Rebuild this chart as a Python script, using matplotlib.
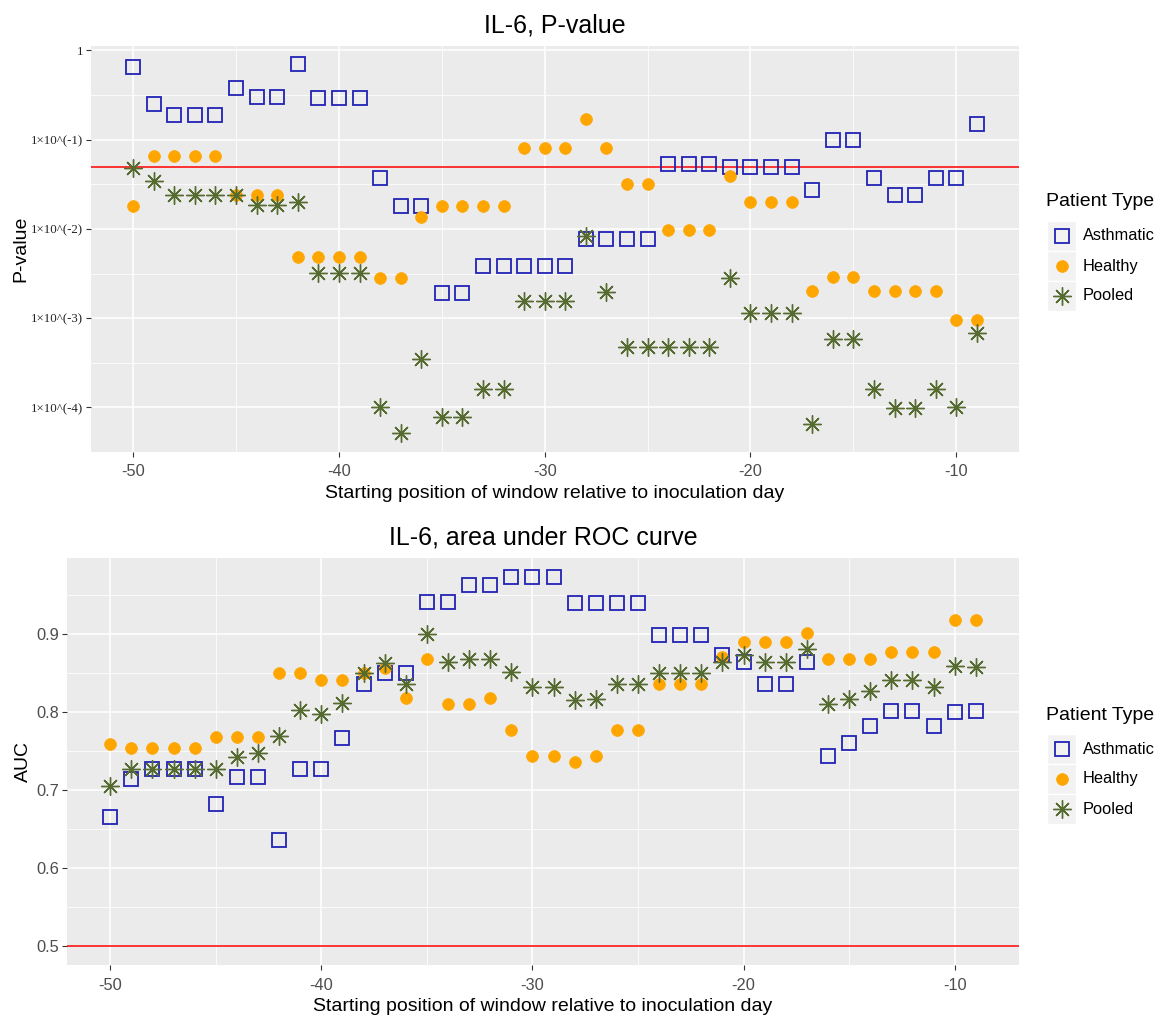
import matplotlib
matplotlib.use('Agg')
import matplotlib.pyplot as plt
from matplotlib.lines import Line2D
from matplotlib.patches import Rectangle
import numpy as np

plt.rcParams['font.family'] = ['Liberation Sans', 'DejaVu Sans']
plt.rcParams['axes.unicode_minus'] = False

days = list(range(-50, -8))

p_asthmatic = [0.66, 0.25, 0.19, 0.19, 0.19, 0.38, 0.30, 0.30, 0.70, 0.29,
               0.29, 0.29, 0.037, 0.018, 0.018, 0.0019, 0.0019, 0.0038, 0.0038, 0.0038,
               0.0038, 0.0038, 0.0078, 0.0078, 0.0078, 0.0078, 0.054, 0.054, 0.054, 0.049,
               0.049, 0.049, 0.049, 0.027, 0.10, 0.10, 0.037, 0.024, 0.024, 0.037,
               0.037, 0.148]
p_healthy = [0.018, 0.065, 0.065, 0.065, 0.065, 0.024, 0.024, 0.024, 0.0049, 0.0049,
             0.0049, 0.0049, 0.0028, 0.0028, 0.0135, 0.018, 0.018, 0.018, 0.018, 0.081,
             0.081, 0.081, 0.17, 0.081, 0.032, 0.032, 0.0097, 0.0097, 0.0097, 0.039,
             0.020, 0.020, 0.020, 0.0020, 0.0029, 0.0029, 0.0020, 0.0020, 0.0020, 0.0020,
             0.00096, 0.00096]
p_pooled = [0.048, 0.034, 0.024, 0.024, 0.024, 0.024, 0.0185, 0.0185, 0.020, 0.0032,
            0.0032, 0.0032, 0.000102, 0.000051, 0.00035, 0.000079, 0.000079, 0.00016, 0.00016, 0.00156,
            0.00156, 0.00156, 0.0083, 0.00196, 0.00047, 0.00047, 0.00047, 0.00047, 0.00047, 0.0028,
            0.00115, 0.00115, 0.00115, 0.000065, 0.00059, 0.00059, 0.00016, 0.000098, 0.000098, 0.00016,
            0.0001, 0.00069]

auc_asthmatic = [0.666, 0.715, 0.727, 0.727, 0.727, 0.682, 0.717, 0.717, 0.636, 0.727,
                 0.727, 0.767, 0.836, 0.851, 0.851, 0.942, 0.942, 0.964, 0.964, 0.973,
                 0.973, 0.973, 0.940, 0.940, 0.940, 0.940, 0.899, 0.899, 0.899, 0.874,
                 0.864, 0.836, 0.836, 0.864, 0.744, 0.761, 0.782, 0.802, 0.802, 0.782,
                 0.801, 0.802]
auc_healthy = [0.760, 0.754, 0.754, 0.754, 0.754, 0.768, 0.768, 0.768, 0.851, 0.851,
               0.842, 0.842, 0.851, 0.857, 0.819, 0.868, 0.811, 0.811, 0.819, 0.777,
               0.744, 0.744, 0.736, 0.744, 0.777, 0.777, 0.836, 0.836, 0.836, 0.871,
               0.890, 0.890, 0.890, 0.902, 0.868, 0.868, 0.868, 0.877, 0.877, 0.877,
               0.918, 0.918]
auc_pooled = [0.705, 0.728, 0.728, 0.728, 0.728, 0.728, 0.743, 0.748, 0.770, 0.803,
              0.798, 0.812, 0.851, 0.863, 0.837, 0.900, 0.864, 0.868, 0.868, 0.852,
              0.833, 0.833, 0.816, 0.817, 0.837, 0.837, 0.850, 0.850, 0.850, 0.865,
              0.874, 0.864, 0.864, 0.881, 0.811, 0.817, 0.828, 0.842, 0.842, 0.833,
              0.859, 0.858]

groups = ['Asthmatic', 'Healthy', 'Pooled']
x_breaks = [-50, -40, -30, -20, -10]
p_breaks = [1, 1e-1, 1e-2, 1e-3, 1e-4]
p_labels = ['1', '1×10^(-1)', '1×10^(-2)', '1×10^(-3)', '1×10^(-4)']
auc_breaks = [0.5, 0.6, 0.7, 0.8, 0.9]
p_threshold = 0.05
auc_threshold = 0.5

styles = {
    'Asthmatic': dict(marker='s', ms=10, mfc='none', mec='#2222B4', mew=1.3, ls='none'),
    'Healthy': dict(marker='o', ms=8.5, mfc='#FFA500', mec='#FFA500', mew=0.5, ls='none'),
    'Pooled': dict(marker=(8, 2, 0), ms=13, mfc='none', mec='#556B2F', mew=1.0, ls='none'),
}

W, H = 1161, 1016
fig = plt.figure(figsize=(W / 100, H / 100), dpi=100)

def px_axes(left, top, right, bottom):
    return fig.add_axes([left / W, 1 - bottom / H, (right - left) / W, (bottom - top) / H])

def style_axes(ax):
    ax.set_facecolor('#EBEBEB')
    for s in ax.spines.values():
        s.set_visible(False)
    ax.grid(True, which='major', color='white', lw=1.1)
    ax.grid(True, which='minor', color='white', lw=0.55)
    ax.set_axisbelow(True)
    ax.tick_params(which='major', length=3.5, width=0.8, color='#333333', labelcolor='#4D4D4D',
                   labelsize=11.8, pad=2)
    ax.tick_params(axis='x', which='major', pad=5.5)
    ax.tick_params(which='minor', length=0)
    ax.set_xlim(-52.05, -6.95)
    ax.set_xticks(x_breaks)
    ax.set_xticks([-45, -35, -25, -15], minor=True)
    ax.set_xlabel('Starting position of window relative to inoculation day', fontsize=14, labelpad=4)

def legend(ax_top_px):
    fig.text(1046 / W, 1 - ax_top_px / H, 'Patient Type', fontsize=14, va='center', ha='left')
    for i, g in enumerate(groups):
        yc = ax_top_px + 34 + i * 30
        fig.add_artist(Rectangle((1047 / W, 1 - (yc + 15) / H), 29 / W, 30 / H,
                                 transform=fig.transFigure, facecolor='#F2F2F2', edgecolor='white', lw=1))
        fig.add_artist(Line2D([1061.5 / W], [1 - yc / H], transform=fig.transFigure, **styles[g]))
        fig.text(1083 / W, 1 - yc / H, g, fontsize=11.8, va='center', ha='left', color='black')

# Top panel: P-values
ax1 = px_axes(91, 46, 1019, 452)
style_axes(ax1)
ax1.set_yscale('log')
ax1.set_ylim(10 ** -4.5, 10 ** 0.05)
ax1.set_yticks(p_breaks)
ax1.set_yticklabels(p_labels, fontfamily='Liberation Serif', fontsize=9.3, color='#222222')
ax1.set_yticks([10 ** -0.5, 10 ** -1.5, 10 ** -2.5, 10 ** -3.5], minor=True)
ax1.yaxis.set_minor_formatter(plt.NullFormatter())
for g, vals in zip(groups, [p_asthmatic, p_healthy, p_pooled]):
    ax1.plot(days, vals, **styles[g])
ax1.axhline(p_threshold, color='#FF0000', lw=1.1, zorder=1.5)
ax1.set_ylabel('P-value', fontsize=14, labelpad=1)
ax1.set_title('IL-6, P-value', fontsize=18, pad=10)
legend(202)

# Bottom panel: AUC
ax2 = px_axes(67, 558, 1019, 965)
style_axes(ax2)
ax2.set_ylim(0.476, 0.998)
ax2.set_yticks(auc_breaks)
ax2.set_yticks([0.55, 0.65, 0.75, 0.85, 0.95], minor=True)
ax2.set_yticklabels([f'{v:.1f}' for v in auc_breaks])
for g, vals in zip(groups, [auc_asthmatic, auc_healthy, auc_pooled]):
    ax2.plot(days, vals, **styles[g])
ax2.axhline(auc_threshold, color='#FF0000', lw=1.1, zorder=1.5)
ax2.set_ylabel('AUC', fontsize=14, labelpad=3)
ax2.set_title('IL-6, area under ROC curve', fontsize=18, pad=10)
legend(715)

fig.savefig('out.png', dpi=100)
